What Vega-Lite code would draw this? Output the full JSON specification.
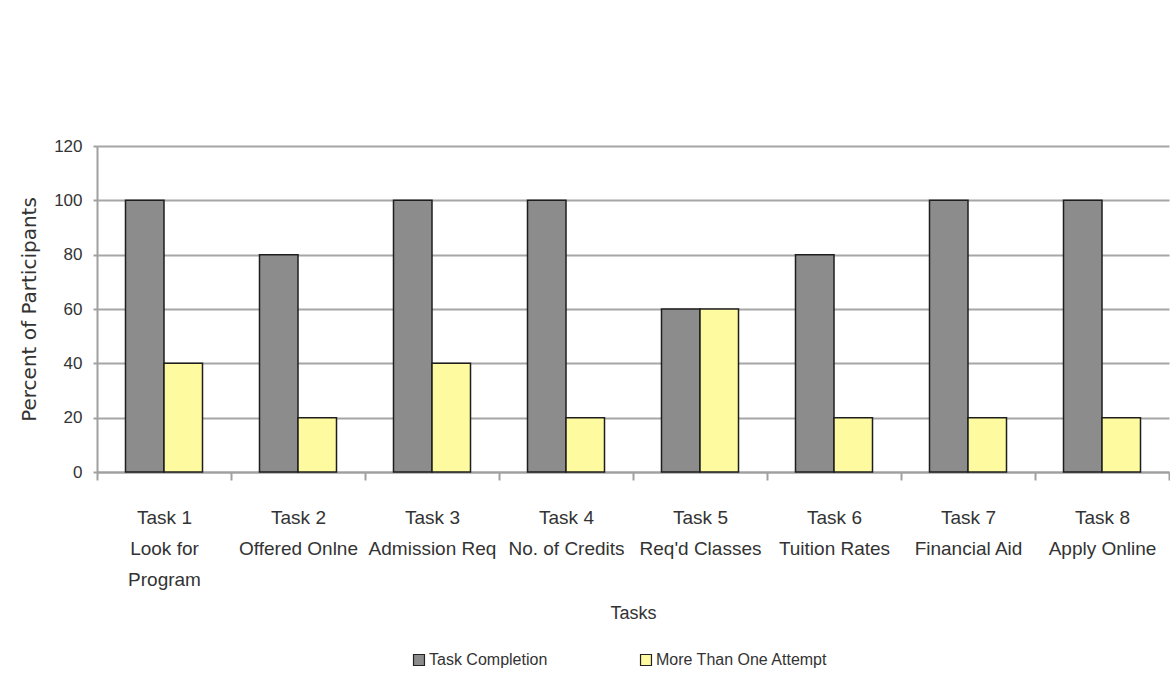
{
  "$schema": "https://vega.github.io/schema/vega-lite/v6.json",
  "width": 1072,
  "height": 326,
  "autosize": "none",
  "padding": {"left": 97, "top": 146, "right": 1, "bottom": 228},
  "background": "white",
  "data": {
    "values": [
      {"task": "Task 1|Look for|Program", "series": "Task Completion", "percent": 100},
      {"task": "Task 1|Look for|Program", "series": "More Than One  Attempt", "percent": 40},
      {"task": "Task 2|Offered Onlne", "series": "Task Completion", "percent": 80},
      {"task": "Task 2|Offered Onlne", "series": "More Than One  Attempt", "percent": 20},
      {"task": "Task 3|Admission Req", "series": "Task Completion", "percent": 100},
      {"task": "Task 3|Admission Req", "series": "More Than One  Attempt", "percent": 40},
      {"task": "Task 4|No. of Credits", "series": "Task Completion", "percent": 100},
      {"task": "Task 4|No. of Credits", "series": "More Than One  Attempt", "percent": 20},
      {"task": "Task 5|Req'd Classes", "series": "Task Completion", "percent": 60},
      {"task": "Task 5|Req'd Classes", "series": "More Than One  Attempt", "percent": 60},
      {"task": "Task 6|Tuition Rates", "series": "Task Completion", "percent": 80},
      {"task": "Task 6|Tuition Rates", "series": "More Than One  Attempt", "percent": 20},
      {"task": "Task 7|Financial Aid", "series": "Task Completion", "percent": 100},
      {"task": "Task 7|Financial Aid", "series": "More Than One  Attempt", "percent": 20},
      {"task": "Task 8|Apply Online", "series": "Task Completion", "percent": 100},
      {"task": "Task 8|Apply Online", "series": "More Than One  Attempt", "percent": 20}
    ]
  },
  "mark": {"type": "bar", "stroke": "#1e1e1e", "strokeWidth": 1.5},
  "encoding": {
    "x": {
      "field": "task",
      "type": "nominal",
      "sort": null,
      "scale": {"paddingInner": 0, "paddingOuter": 0},
      "axis": {
        "title": "Tasks",
        "labelExpr": "split(datum.label, '|')",
        "labelAngle": 0,
        "labelLineHeight": 31,
        "labelFont": "Liberation Sans",
        "labelFontSize": 19,
        "labelColor": "#333333",
        "labelPadding": 28,
        "labelLimit": 200,
        "tickBand": "extent",
        "tickSize": 8,
        "tickColor": "#a0a0a0",
        "tickWidth": 2,
        "domainColor": "#a0a0a0",
        "domainWidth": 2,
        "grid": false,
        "titleFont": "Liberation Sans",
        "titleFontSize": 18,
        "titleFontWeight": "normal",
        "titleColor": "#333333",
        "titlePadding": 15
      }
    },
    "xOffset": {
      "field": "series",
      "sort": ["Task Completion", "More Than One  Attempt"],
      "scale": {"paddingInner": 0, "paddingOuter": 0.74}
    },
    "y": {
      "field": "percent",
      "type": "quantitative",
      "scale": {"domain": [0, 120]},
      "axis": {
        "title": "Percent of Participants",
        "values": [0, 20, 40, 60, 80, 100, 120],
        "labelFont": "Liberation Sans",
        "labelFontSize": 17,
        "labelColor": "#333333",
        "labelPadding": 11,
        "tickSize": 4,
        "tickColor": "#a0a0a0",
        "tickWidth": 2,
        "domainColor": "#a0a0a0",
        "domainWidth": 2,
        "gridColor": "#a6a6a6",
        "gridWidth": 2,
        "titleFont": "DejaVu Sans",
        "titleFontSize": 20,
        "titleFontWeight": "normal",
        "titleColor": "#333333",
        "titlePadding": 14
      }
    },
    "color": {
      "field": "series",
      "type": "nominal",
      "scale": {
        "domain": ["Task Completion", "More Than One  Attempt"],
        "range": ["#8c8c8c", "#fdfa9f"]
      },
      "legend": {
        "title": null,
        "orient": "none",
        "legendX": 314,
        "legendY": 506,
        "direction": "horizontal",
        "symbolType": "square",
        "symbolSize": 120,
        "symbolStrokeColor": "#222222",
        "symbolStrokeWidth": 1.2,
        "labelFont": "Liberation Sans",
        "labelFontSize": 16,
        "labelColor": "#333333",
        "labelOffset": 2,
        "labelLimit": 300,
        "columnPadding": 90
      }
    }
  },
  "config": {"view": {"stroke": null}}
}
